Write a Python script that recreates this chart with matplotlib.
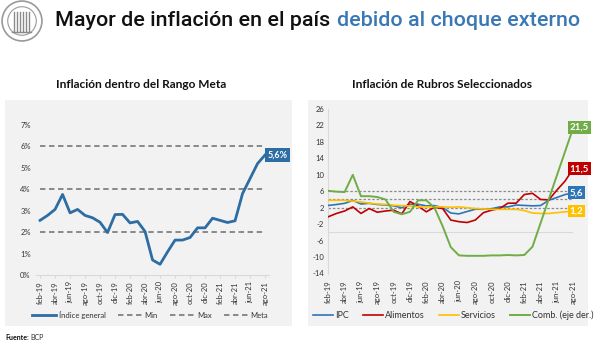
import matplotlib
matplotlib.use("Agg")
import matplotlib.pyplot as plt
from matplotlib.patches import Rectangle, Circle
import warnings

warnings.filterwarnings("ignore")

# ---- data (interannual %, feb-19 .. ago-21) ----
tick_labels = ['feb-19', 'abr-19', 'jun-19', 'ago-19', 'oct-19', 'dic-19',
               'feb-20', 'abr-20', 'jun-20', 'ago-20', 'oct-20', 'dic-20',
               'feb-21', 'abr-21', 'jun-21', 'ago-21']

ipc = [2.55, 2.78, 3.06, 3.76, 2.9, 3.06, 2.78, 2.67, 2.46, 1.98, 2.82,
       2.83, 2.43, 2.5, 2.03, 0.7, 0.5, 1.08, 1.63, 1.63, 1.75, 2.2, 2.2,
       2.65, 2.55, 2.45, 2.53, 3.8, 4.5, 5.2, 5.6]
alimentos = [-0.2, 0.6, 1.2, 2.2, 0.6, 1.8, 0.9, 1.2, 1.4, 0.5, 3.5,
             2.4, 1.0, 2.1, 1.8, -1.0, -1.4, -1.6, -1.0, 0.8, 1.4, 1.8, 3.1,
             3.1, 5.2, 5.5, 4.0, 3.9, 6.3, 8.5, 11.5]
servicios = [3.8, 3.8, 3.8, 3.6, 3.4, 3.1, 2.9, 2.8, 2.6, 2.5, 2.4,
             2.2, 2.2, 2.2, 2.2, 2.1, 2.2, 2.0, 1.8, 1.7, 1.6, 1.6, 1.6,
             1.6, 1.3, 0.7, 0.6, 0.6, 0.8, 1.0, 1.2]
combustibles = [6.1, 5.9, 5.8, 10.0, 4.8, 4.8, 4.6, 4.0, 1.0, 0.4, 1.0,
                3.8, 3.8, 2.0, -2.5, -7.6, -9.6, -9.7, -9.7, -9.7, -9.6, -9.6, -9.5,
                -9.6, -9.5, -7.5, -1.7, 4.1, 9.9, 15.7, 21.5]
rango_min = 2
rango_max = 6
meta = 4

W, H = 600, 343
BLUE = '#2e6da4'
RED = '#c00000'
YELLOW = '#ffc000'
GREEN = '#70ad47'
DASH = '#808080'
TXT = '#333333'
FONT = ['Lato', 'DejaVu Sans']
TITLE_FONT = ['Roboto', 'DejaVu Sans']


def rect(x0, y0, x1, y1):
    """pixel box (top-left origin) -> figure fraction [l, b, w, h]"""
    return [x0 / W, 1 - y1 / H, (x1 - x0) / W, (y1 - y0) / H]


fig = plt.figure(figsize=(6, 3.43), dpi=100)
fig.patch.set_facecolor('white')

# grey panels behind both charts
for x0, x1 in [(5, 292), (308, 588)]:
    fig.add_artist(Rectangle((x0 / W, 1 - 326 / H), (x1 - x0) / W, 226 / H,
                             transform=fig.transFigure, facecolor='#f2f2f2',
                             edgecolor='none', zorder=-5))

# ---- logo (simple seal) ----
lg = fig.add_axes(rect(1, 0, 43, 42))
lg.set_xlim(-1, 1)
lg.set_ylim(-1, 1)
lg.set_aspect('equal')
lg.axis('off')
lg.add_patch(Circle((0, 0), 0.95, fc='white', ec='#9a9a9a', lw=1.2))
lg.add_patch(Circle((0, 0), 0.68, fc='none', ec='#9a9a9a', lw=0.8))
for bx in [-0.4, -0.25, -0.1, 0.05, 0.2, 0.35]:
    lg.plot([bx, bx], [-0.5, 0.45], color='#8a8a8a', lw=1.0)
lg.plot([-0.5, 0.45], [-0.5, -0.5], color='#8a8a8a', lw=1.0)

# ---- title (two colours) ----
t1 = fig.text(55 / W, 1 - 20 / H, 'Mayor de inflación en el país', fontsize=17,
              family=TITLE_FONT, fontweight='medium', color='#111111', va='center')
fig.canvas.draw()
rend = fig.canvas.get_renderer()
bb = t1.get_window_extent(rend)
scale = 275 / bb.width
t1.set_fontsize(17 * scale)
fig.canvas.draw()
bb = t1.get_window_extent(rend)
fig.text((bb.x1 + 7) / W, 1 - 20 / H, 'debido al choque externo', fontsize=17 * scale,
         family=TITLE_FONT, fontweight='medium', color='#3a78b5', va='center')

# panel titles
fig.text(141 / W, 1 - 85 / H, 'Inflación dentro del Rango Meta', fontsize=8.6,
         fontweight='bold', family=FONT, color='#111111', ha='center', va='center')
fig.text(442 / W, 1 - 85 / H, 'Inflación de Rubros Seleccionados', fontsize=8.6,
         fontweight='bold', family=FONT, color='#111111', ha='center', va='center')

x = list(range(len(ipc)))
ticks = x[::2]

# ---- left chart ----
ax1 = fig.add_axes(rect(36.3, 125, 268.8, 275))
ax1.set_facecolor('none')
ax1.plot(x, ipc, color=BLUE, lw=2.0, label='Índice general', zorder=4)
ax1.plot(x, [rango_min] * len(x), color=DASH, lw=1.3, ls=(0, (3, 2)), label='Min')
ax1.plot(x, [rango_max] * len(x), color=DASH, lw=1.3, ls=(0, (3, 2)), label='Max')
ax1.plot(x, [meta] * len(x), color=DASH, lw=1.3, ls=(0, (3, 2)), label='Meta')
ax1.set_xlim(-0.5, len(x) - 0.5)
ax1.set_ylim(0, 7)
ax1.set_yticks(range(8))
ax1.set_yticklabels([f'{v}%' for v in range(8)], family=FONT, fontsize=5.5, color=TXT)
ax1.set_xticks(ticks)
ax1.set_xticklabels(tick_labels, rotation=90, family=FONT, fontsize=5.5, color=TXT)
for s in ['top', 'right', 'left']:
    ax1.spines[s].set_visible(False)
ax1.spines['bottom'].set_color('#d9d9d9')
ax1.tick_params(axis='y', length=0, pad=4)
ax1.tick_params(axis='x', length=2.5, color='#d9d9d9', pad=2)
ax1.text(len(x) - 1 + 0.35, ipc[-1], '5,6%', color='white', fontsize=6.5,
         fontweight='bold', family=FONT, ha='left', va='center', zorder=6,
         bbox=dict(boxstyle='square,pad=0.25', fc=BLUE, ec='none'))
fig.legend(*ax1.get_legend_handles_labels(), loc='center',
           bbox_to_anchor=(150 / W, 1 - 315 / H), ncol=4, frameon=False,
           prop={'family': FONT, 'size': 5.5}, handlelength=3.2,
           columnspacing=1.6, handletextpad=0.3, labelcolor=TXT)

# ---- right chart ----
ax2 = fig.add_axes(rect(328.3, 109, 573.3, 273.5))
ax2.set_facecolor('none')
for lvl in [rango_max, meta, rango_min]:
    ax2.plot(x, [lvl] * len(x), color='#8c8c8c', lw=0.9, ls=(0, (2, 1.5)), zorder=1)
ax2.axhline(-4, color='#d9d9d9', lw=0.8, zorder=0)
ax2.plot(x, ipc, color='#2e75b6', lw=1.2, label='IPC', zorder=3)
ax2.plot(x, alimentos, color=RED, lw=1.2, label='Alimentos', zorder=3)
ax2.plot(x, servicios, color=YELLOW, lw=1.2, label='Servicios', zorder=3)
ax2.plot(x, combustibles, color=GREEN, lw=1.4, label='Comb. (eje der.)', zorder=4)
ax2.set_xlim(0, len(x) - 1)
ax2.set_ylim(-14, 26)
ax2.set_yticks(range(-14, 27, 4))
ax2.set_yticklabels([str(v) for v in range(-14, 27, 4)], family=FONT, fontsize=5.5, color=TXT)
ax2.set_xticks(ticks)
ax2.set_xticklabels(tick_labels, rotation=90, family=FONT, fontsize=5.5, color=TXT)
for s in ['top', 'right', 'bottom']:
    ax2.spines[s].set_visible(False)
ax2.spines['left'].set_color('#d9d9d9')
ax2.tick_params(axis='y', length=0, pad=3)
ax2.tick_params(axis='x', length=0, pad=5)
for vals, col, txt in [(combustibles, GREEN, '21,5'), (alimentos, RED, '11,5'),
                       (ipc, '#2e75b6', '5,6'), (servicios, YELLOW, '1,2')]:
    ax2.text(len(x) - 1 - 0.45, vals[-1], txt, color='white', fontsize=7,
             fontweight='bold', family=FONT, ha='left', va='center', zorder=6,
             clip_on=False, bbox=dict(boxstyle='square,pad=0.2', fc=col, ec='none'))
fig.legend(*ax2.get_legend_handles_labels(), loc='center',
           bbox_to_anchor=(453 / W, 1 - 315 / H), ncol=4, frameon=False,
           prop={'family': FONT, 'size': 6.5}, handlelength=2.2,
           columnspacing=1.6, handletextpad=0.2, labelcolor=TXT)

# source note
src = fig.text(5 / W, 1 - 338 / H, 'Fuente:', fontsize=5, fontweight='bold',
               family=FONT, color='#111111', va='center')
fig.canvas.draw()
sb = src.get_window_extent(fig.canvas.get_renderer())
fig.text((sb.x1 + 2) / W, 1 - 338 / H, 'BCP', fontsize=5, family=FONT,
         color='#333333', va='center')

fig.savefig('out.png', dpi=100)
